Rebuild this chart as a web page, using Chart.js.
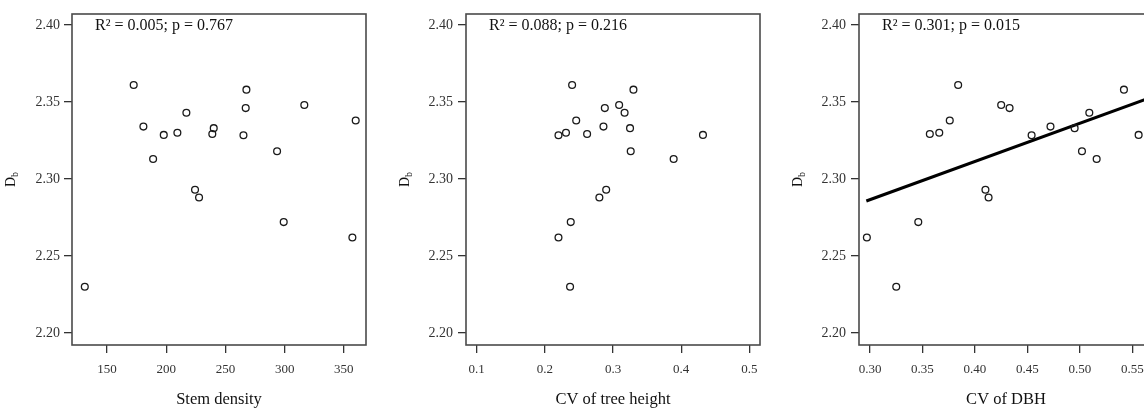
<!DOCTYPE html>
<html>
<head>
<meta charset="utf-8">
<script src="https://cdn.jsdelivr.net/npm/chart.js@4.4.0/dist/chart.umd.min.js"></script>
<style>
  html, body { margin: 0; padding: 0; background: #fff; overflow: hidden; }
  #wrap { position: relative; width: 1144px; height: 411px; overflow: hidden; }
  canvas { position: absolute; top: 0; }
</style>
</head>
<body>
<div id="wrap">
  <canvas id="c1" width="380" height="411" style="left:0px"></canvas>
  <canvas id="c2" width="380" height="411" style="left:394px"></canvas>
  <canvas id="c3" width="380" height="411" style="left:787px"></canvas>
</div>
<script>
// Db (same plots in all three panels)
const dbValues = [2.361, 2.358, 2.348, 2.346, 2.343, 2.338, 2.334, 2.333, 2.330, 2.3292,
                  2.3286, 2.3284, 2.318, 2.313, 2.293, 2.288, 2.272, 2.262, 2.230];

// x variables, same order as dbValues
const stemDensity = [172.5, 267.7, 316.6, 267.1, 217, 360, 180.7, 240.1, 209.4, 238.9,
                     197.9, 265.2, 293.6, 188.9, 224.3, 227.7, 299.2, 357.2, 131.2];
const cvHeight = [0.240, 0.330, 0.309, 0.288, 0.317, 0.246, 0.286, 0.325, 0.231, 0.262,
                  0.432, 0.220, 0.326, 0.389, 0.290, 0.280, 0.238, 0.220, 0.237];
const cvDbh = [0.384, 0.542, 0.425, 0.433, 0.509, 0.376, 0.472, 0.495, 0.366, 0.357,
               0.556, 0.454, 0.502, 0.516, 0.410, 0.413, 0.346, 0.297, 0.325];

// fitted line in the CV of DBH panel
const trendX = [0.2965, 0.5697];
const trendY = [2.2857, 2.3535];

const yTicks = [2.20, 2.25, 2.30, 2.35, 2.40];
const stemTicks = [150, 200, 250, 300, 350];
const heightTicks = [0.1, 0.2, 0.3, 0.4, 0.5];
const dbhTicks = [0.30, 0.35, 0.40, 0.45, 0.50, 0.55];

const xTitles = ['Stem density', 'CV of tree height', 'CV of DBH'];
const statLabels = ['R\u00b2 = 0.005; p = 0.767', 'R\u00b2 = 0.088; p = 0.216', 'R\u00b2 = 0.301; p = 0.015'];

const serif = '"Liberation Serif", "Times New Roman", serif';

// box round the plot, the stats text and the D_b axis title
const framePlugin = {
  id: 'frame',
  afterDraw(chart, args, opts) {
    const ctx = chart.ctx;
    const a = chart.chartArea;
    ctx.save();
    ctx.strokeStyle = '#4a4a4a';
    ctx.lineWidth = 1.6;
    ctx.strokeRect(a.left, a.top, a.right - a.left, a.bottom - a.top);

    ctx.fillStyle = '#111';
    ctx.font = '16px ' + serif;
    ctx.textBaseline = 'alphabetic';
    ctx.textAlign = 'left';
    ctx.fillText(opts.stat, a.left + 23, a.top + 16);

    ctx.translate(a.left - 61, (a.top + a.bottom) / 2);
    ctx.rotate(-Math.PI / 2);
    ctx.font = '14px ' + serif;
    const wD = ctx.measureText('D').width;
    ctx.font = '10px ' + serif;
    const wb = ctx.measureText('b').width;
    const start = -(wD + wb) / 2;
    ctx.textBaseline = 'middle';
    ctx.font = '14px ' + serif;
    ctx.fillText('D', start, 0);
    ctx.font = '10px ' + serif;
    ctx.fillText('b', start + wD, 4);
    ctx.restore();
  }
};

function makePanel(id, xs, ticks, dec, xmin, xmax, title, stat, yPad, withTrend) {
  const datasets = [{
    data: xs.map((v, i) => ({ x: v, y: dbValues[i] })),
    pointRadius: 3.4,
    pointBorderWidth: 1.3,
    pointBorderColor: '#1a1a1a',
    pointBackgroundColor: 'rgba(0,0,0,0)',
    showLine: false
  }];
  if (withTrend) {
    datasets.push({
      type: 'line',
      data: trendX.map((v, i) => ({ x: v, y: trendY[i] })),
      borderColor: '#000',
      borderWidth: 3,
      pointRadius: 0,
      fill: false
    });
  }
  return new Chart(document.getElementById(id), {
    type: 'scatter',
    data: { datasets: datasets },
    options: {
      responsive: false,
      animation: false,
      events: [],
      layout: { padding: { top: 14, right: 14, left: 0, bottom: 0 } },
      plugins: {
        legend: { display: false },
        tooltip: { enabled: false },
        frame: { stat: stat }
      },
      scales: {
        x: {
          type: 'linear',
          min: xmin,
          max: xmax,
          afterFit: s => { s.height = 66; },
          afterBuildTicks: s => { s.ticks = ticks.map(v => ({ value: v })); },
          grid: { drawOnChartArea: false, drawTicks: true, tickLength: 8, color: '#333', lineWidth: 1.3 },
          border: { display: false },
          ticks: {
            autoSkip: false,
            maxRotation: 0,
            padding: 9,
            color: '#333',
            font: { family: serif, size: 13 },
            callback: v => Number(v).toFixed(dec)
          },
          title: {
            display: true,
            text: title,
            color: '#111',
            font: { family: serif, size: 16.5 },
            padding: { top: 0, bottom: 1 }
          }
        },
        y: {
          type: 'linear',
          min: 2.1922,
          max: 2.4071,
          afterFit: s => { s.width = 72; },
          afterBuildTicks: s => { s.ticks = yTicks.map(v => ({ value: v })); },
          grid: { drawOnChartArea: false, drawTicks: true, tickLength: 8, color: '#333', lineWidth: 1.3 },
          border: { display: false },
          ticks: {
            autoSkip: false,
            padding: yPad,
            color: '#333',
            font: { family: serif, size: 14 },
            callback: v => Number(v).toFixed(2)
          }
        }
      }
    },
    plugins: [framePlugin]
  });
}

makePanel('c1', stemDensity, stemTicks, 0, 120.4, 368.7, xTitles[0], statLabels[0], 4, false);
makePanel('c2', cvHeight, heightTicks, 1, 0.0843, 0.5157, xTitles[1], statLabels[1], 5, false);
makePanel('c3', cvDbh, dbhTicks, 2, 0.2895, 0.5697, xTitles[2], statLabels[2], 5, true);
</script>
</body>
</html>
